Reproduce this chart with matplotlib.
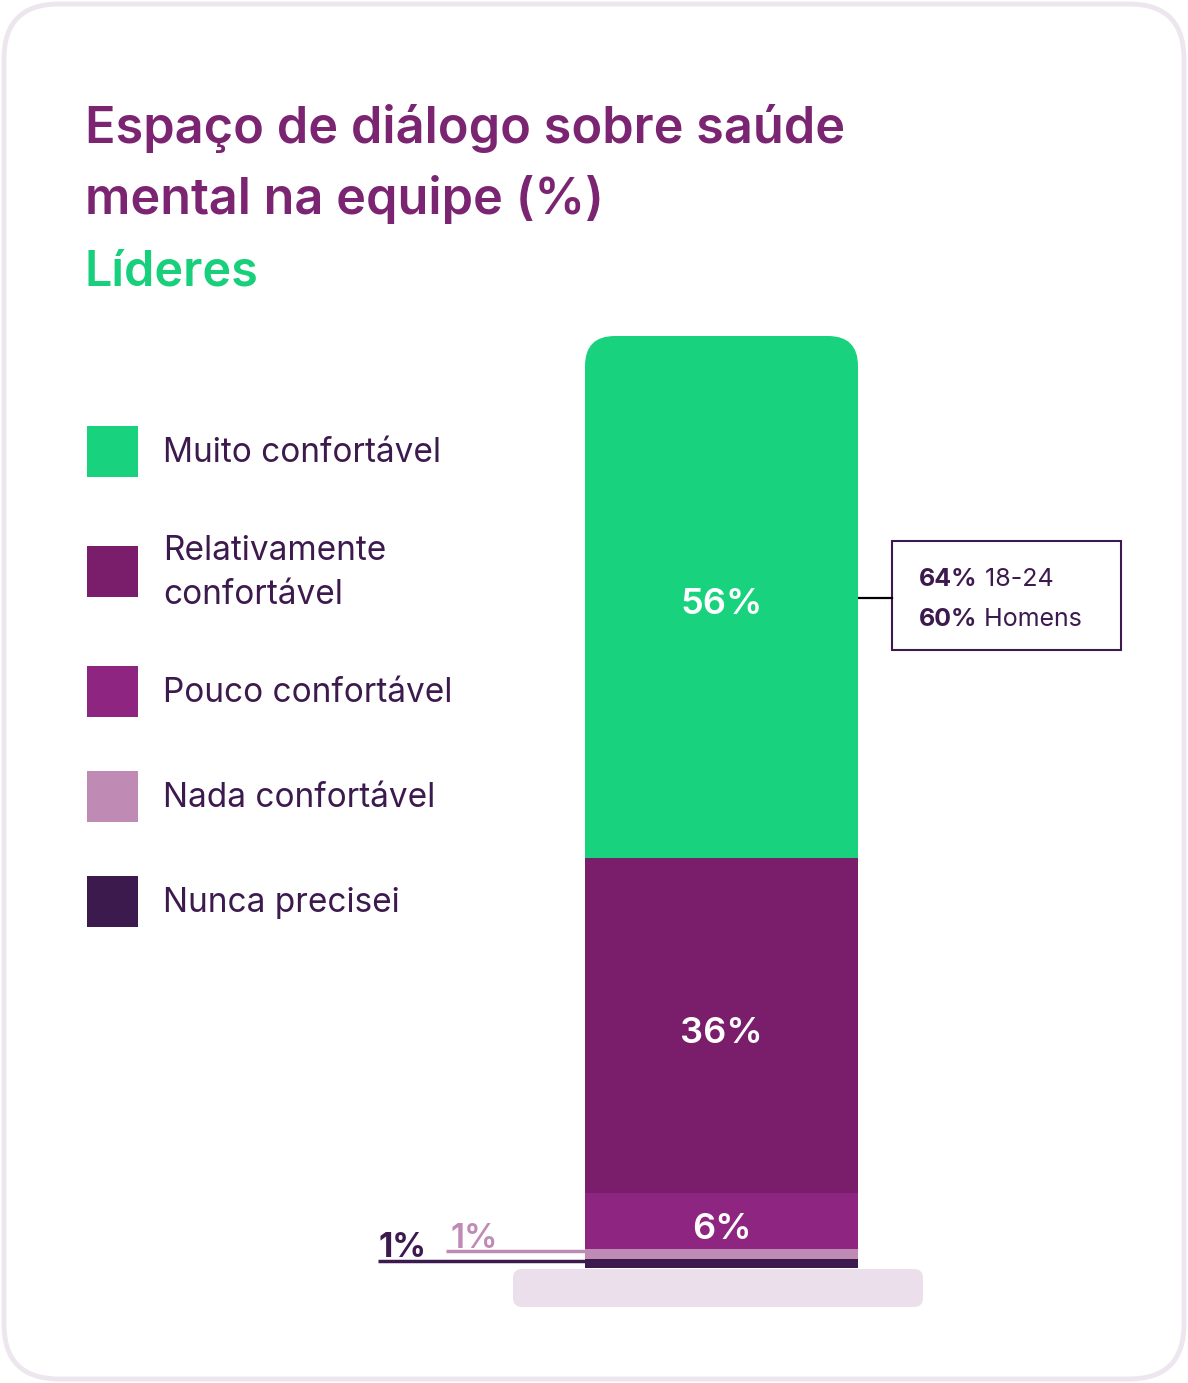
import matplotlib
matplotlib.use("Agg")
import matplotlib.pyplot as plt
from matplotlib.patches import FancyBboxPatch, Rectangle
from matplotlib.transforms import blended_transform_factory

plt.rcParams["font.family"] = ["Inter", "DejaVu Sans"]

# dados
categorias = ["Muito confortável", "Relativamente\nconfortável", "Pouco confortável",
              "Nada confortável", "Nunca precisei"]
valores = [56, 36, 6, 1, 1]
cores = ["#18d27e", "#7a1e6c", "#8e2681", "#bf8bb5", "#3d1a4e"]
destaque = [("64%", " 18-24"), ("60%", " Homens")]

W, H = 1188, 1383
fig = plt.figure(figsize=(W / 100, H / 100), dpi=100)

# fundo em pixels
bg = fig.add_axes([0, 0, 1, 1])
bg.set_xlim(0, W)
bg.set_ylim(H, 0)
bg.axis("off")

card = FancyBboxPatch((4, 4), W - 8, H - 8, boxstyle="round,pad=0,rounding_size=55",
                      fc="white", ec="#eee6ee", lw=3.5)
bg.add_patch(card)

roxo = "#7b2572"
escuro = "#3d1a4e"
bg.text(85, 143, "Espaço de diálogo sobre saúde", fontsize=36.3, weight="semibold",
        color=roxo, va="baseline")
bg.text(85, 214, "mental na equipe (%)", fontsize=36.3, weight="semibold",
        color=roxo, va="baseline")
bg.text(85, 286, "Líderes", fontsize=35, weight="semibold", color="#18cf7b", va="baseline")

# legenda
leg_y = [453, 573, 693, 798, 903]
for lab, cor, y in zip(categorias, cores, leg_y):
    bg.add_patch(Rectangle((87, y - 27.5), 51, 51, fc=cor, ec="none"))
    bg.text(163, y, lab, fontsize=24, color=escuro, va="center", linespacing=1.45)

# base clara
bg.add_patch(FancyBboxPatch((513, 1269), 410, 38, boxstyle="round,pad=0,rounding_size=9",
                            fc="#ebdfeb", ec="none"))

# barra empilhada
x0, x1, ytop, ybot = 585, 858, 336, 1268
ax = fig.add_axes([x0 / W, (H - ybot) / H, (x1 - x0) / W, (ybot - ytop) / H])
ax.set_xlim(-0.5, 0.5)
ax.set_ylim(0, 100)
ax.axis("off")
px_per_y = (ybot - ytop) / 100

ordem = list(range(len(valores)))[::-1]  # de baixo para cima
base = 0
bases = {}
for i in ordem:
    bars = ax.bar(0, valores[i], bottom=base, width=1, color=cores[i], lw=0)
    bases[i] = base
    if i == 0:
        r = 30
        clip = FancyBboxPatch((-0.5, 0), 1, 100,
                              boxstyle="round,pad=0,rounding_size=%f" % (r / (x1 - x0)),
                              mutation_aspect=(r / px_per_y) / (r / (x1 - x0)),
                              transform=ax.transData, fc="none", ec="none")
        bars[0].set_clip_path(clip)
    base += valores[i]

for i in range(3):
    ax.text(0, bases[i] + valores[i] / 2 - 8 / px_per_y, f"{valores[i]}%", ha="center",
            va="center", color="white", fontsize=26, weight="semibold")

# rótulos pequenos
tr = blended_transform_factory(bg.transData, ax.transData)
ax.plot([378, 585], [bases[4] + valores[4] - 0.2] * 2, color=cores[4],
        lw=2.5, transform=tr, clip_on=False, solid_capstyle="butt")
ax.text(378, bases[4] + valores[4] + 0.15, f"{valores[4]}%", transform=tr, color=cores[4],
        fontsize=24, weight="bold", va="baseline", ha="left")
ax.plot([446, 585], [bases[3] + valores[3] - 0.2] * 2, color=cores[3],
        lw=2.5, transform=tr, clip_on=False, solid_capstyle="butt")
ax.text(450, bases[3] + valores[3] + 0.1, f"{valores[3]}%", transform=tr, color=cores[3],
        fontsize=24, weight="semibold", va="baseline", ha="left")

# caixa de destaque
bg.plot([858, 892], [598, 598], color="black", lw=1.6)
bg.add_patch(Rectangle((892, 541), 229, 109, fc="white", ec=escuro, lw=1.5))
for (forte, resto), y in zip(destaque, [580, 619]):
    t = bg.text(919, y, forte, fontsize=18, weight="bold", color=escuro, va="center")
    bg.annotate(resto, xy=(1, 0), xycoords=t, va="bottom", ha="left",
                fontsize=18, color=escuro)

fig.savefig("out.png", dpi=100)
print("saved: out.png")
